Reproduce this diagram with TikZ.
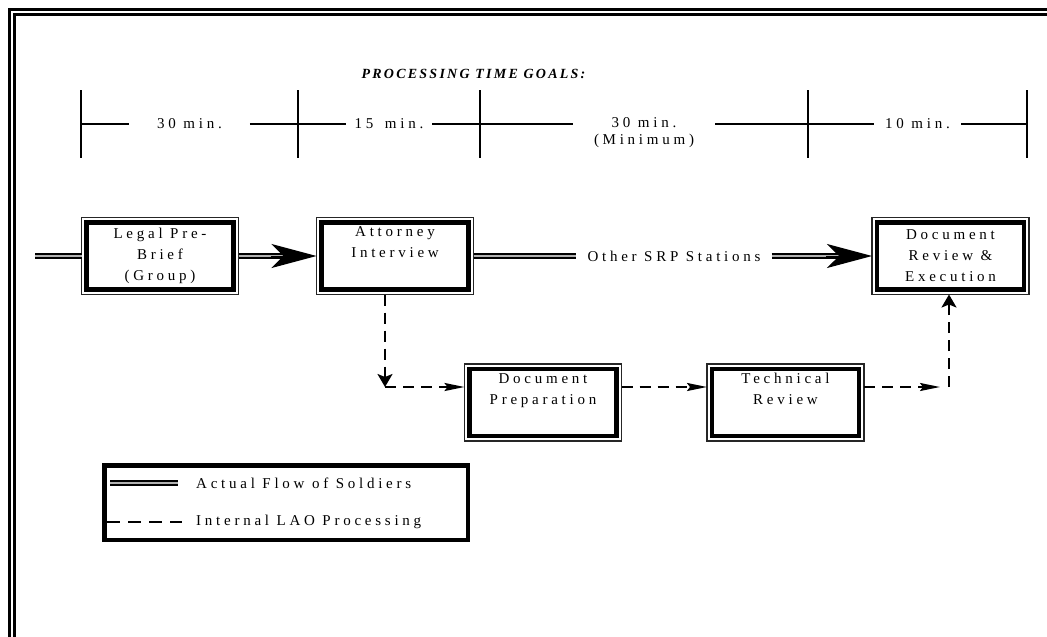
\documentclass[tikz,border=0pt]{standalone}
\usepackage{fontspec}
\setmainfont{Liberation Serif}
\newfontfamily\spacedfont[LetterSpace=25]{Liberation Serif}
\newfontfamily\headfont[LetterSpace=16]{Liberation Serif}
\usetikzlibrary{arrows.meta}

\begin{document}
\begin{tikzpicture}[x=1pt,y=-1pt,
  txt/.style={font=\spacedfont\fontsize{15}{21}\selectfont, inner sep=0pt},
  station/.style={draw, line width=4.5pt, minimum width=147pt, minimum height=67pt,
    align=center, inner sep=0pt, outer sep=5pt, font=\spacedfont\fontsize{15}{21}\selectfont},
  rim/.style={draw=black!85, line width=1.2pt},
  flowline/.style={line width=1.6pt, double=gray!60, double distance=2pt},
  flowhead/.style={line width=1pt, -{Stealth[length=45pt,width=24pt,inset=12pt]}},
  tick/.style={line width=1.3pt},
  ruler/.style={line width=1.1pt},
  process/.style={line width=2pt, dash pattern=on 11pt off 7pt},
  htip/.style={-{Stealth[length=20pt,width=8pt,inset=3pt]}},
  vtip/.style={-{Stealth[length=13pt,width=15pt,inset=3pt]}},
]
\useasboundingbox (0,0) rectangle (1047,637);

% page frame (top and left double rule)
\draw[line width=3pt] (9.5,637) -- (9.5,9.5) -- (1047,9.5);
\draw[line width=2.5pt] (14.25,637) -- (14.25,14.25) -- (1047,14.25);

% heading
\node (title) at (473.5,74)
  {\headfont\bfseries\itshape\fontsize{14}{16}\selectfont PROCESSING TIME GOALS:};

% time ruler
\coordinate (t0) at (81,124);
\coordinate (t1) at (298,124);
\coordinate (t2) at (480,124);
\coordinate (t3) at (808,124);
\coordinate (t4) at (1027,124);
\foreach \t in {t0,t1,t2,t3,t4}
  \draw[tick] ([yshift=34pt]\t) -- ([yshift=-34pt]\t);

\node[txt, inner xsep=28pt] (g1) at (189.5,124) {30 min.};
\node[txt, inner xsep=9pt] (g2) at (389,124) {15\hspace{4pt} min.};
\node[txt, inner xsep=21pt, align=center, font=\spacedfont\fontsize{15}{17}\selectfont]
  (g3) at (644,132.5) {30 min.\\(Minimum)};
\node[txt, inner xsep=11pt] (g4) at (917.5,124) {10 min.};

\draw[ruler] (t0) -- (g1.west);
\draw[ruler] (g1.east) -- (t1) -- (g2.west);
\draw[ruler] (g2.east) -- (t2) -- (g3.west |- t2);
\draw[ruler] (g3.east |- t2) -- (t3) -- (g4.west);
\draw[ruler] (g4.east) -- (t4);

% stations
\node[station] (legal)    at (160,256)   {Legal Pre-\\Brief\\(Group)};
\node[station] (attorney) at (395,256)   {Attorney\\Interview\\\strut};
\node[station] (docrev)   at (950.5,256) {Document\\Review \&\\Execution};
\node[station] (docprep)  at (543,402.5) {Document\\Preparation\\\strut};
\node[station] (techrev)  at (785.5,402.5) {Technical\\Review\\\strut};
\foreach \n in {legal,attorney,docrev,docprep,techrev}
  \draw[rim] (\n.north west) rectangle (\n.south east);

% flow of soldiers
\coordinate (entry) at (35,256);
\draw[flowline] (entry) -- (legal.west);
\draw[flowline] (legal.east) -- ([xshift=-30pt]attorney.west);
\draw[flowhead] ([xshift=-46pt]attorney.west) -- (attorney.west);

\node[txt, inner xsep=11pt] (srp) at (674,256) {Other SRP Stations};
\draw[flowline] (attorney.east) -- (srp.west);
\draw[flowline] (srp.east) -- ([xshift=-30pt]docrev.west);
\draw[flowhead] ([xshift=-46pt]docrev.west) -- (docrev.west);

% internal processing
\coordinate (drop) at (385,387);
\coordinate (rise) at (949,387);
\draw[process, vtip] (attorney.south -| drop) -- (drop);
\draw[process, htip] (drop) -- (docprep.west |- drop);
\draw[process, htip] (docprep.east |- drop) -- (techrev.west |- drop);
\draw[process, htip] (techrev.east |- drop) -- ([xshift=-9pt]rise);
\draw[process, vtip] (rise) -- (docrev.south -| rise);

% legend
\node[draw, line width=4.5pt, minimum width=363.5pt, minimum height=74.5pt, inner sep=0pt]
  (legend) at (286,502.5) {};
\node[txt, anchor=west] (lg1) at (196,483) {Actual Flow of Soldiers};
\node[txt, anchor=west] (lg2) at (196,522) {Internal LAO Processing};
\draw[flowline] (110,483) -- (178,483);
\draw[line width=2pt, dash pattern=on 13pt off 8pt] (107,522) -- (182,522);

\end{tikzpicture}
\end{document}
